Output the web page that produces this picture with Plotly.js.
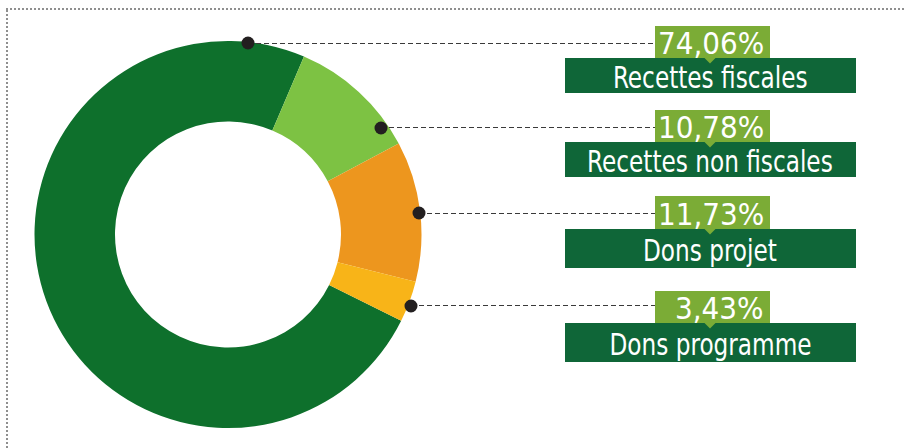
<!DOCTYPE html>
<html>
<head>
<meta charset="utf-8">
<script src="https://cdn.plot.ly/plotly-3.0.1.min.js"></script>
<style>
  html, body { margin: 0; padding: 0; background: #ffffff; }
  #chart { width: 908px; height: 448px; }
</style>
</head>
<body>
<div id="chart"></div>
<script>
// ---- Data ----
const categories = ['Recettes fiscales', 'Recettes non fiscales', 'Dons projet', 'Dons programme'];
const values = [74.06, 10.78, 11.73, 3.43];
const sliceColors = ['#0e702c', '#7dc243', '#ed961e', '#f8b418'];

// ---- Layout helpers (pixel -> paper) ----
const W = 908, H = 448;
const px = x => x / W;
const py = y => 1 - y / H;

// label block geometry (pixels)
const rows = [
  { dot: [248, 43],  lineY: 43.5,  pct: [26, 58],   lab: [58, 93] },
  { dot: [381, 128], lineY: 127.5, pct: [110, 142], lab: [142, 177] },
  { dot: [419, 213], lineY: 213.5, pct: [196, 229], lab: [229, 268] },
  { dot: [411, 306], lineY: 305.5, pct: [291, 323], lab: [323, 362] }
];
const pctX = [655, 770], labX = [565, 856];

const cx = 228, cy = 234.5, R = 193.5;
const FONT = '"DejaVu Sans Condensed", "Liberation Sans Narrow", sans-serif';
const LABEL_SQUEEZE = 0.86;

const shapes = [];
const annotations = [];

// dotted frame
shapes.push({ type: 'line', xref: 'paper', yref: 'paper', x0: px(6), x1: px(906), y0: py(9), y1: py(9),
  line: { color: '#8f8f8f', width: 2, dash: '2px,2px' } });
shapes.push({ type: 'line', xref: 'paper', yref: 'paper', x0: px(7), x1: px(7), y0: py(10), y1: py(448),
  line: { color: '#8f8f8f', width: 2, dash: '2px,2px' } });

rows.forEach((r, i) => {
  // dashed leader
  shapes.push({ type: 'line', xref: 'paper', yref: 'paper', x0: px(r.dot[0]), x1: px(pctX[0]),
    y0: py(r.lineY), y1: py(r.lineY), line: { color: '#3a3a3a', width: 1, dash: '5px,3px' } });
  // dot
  const d = 6.5;
  shapes.push({ type: 'circle', xref: 'paper', yref: 'paper', x0: px(r.dot[0] - d), x1: px(r.dot[0] + d),
    y0: py(r.dot[1] + d), y1: py(r.dot[1] - d), fillcolor: '#231f20', line: { width: 0 } });
  // dark label box
  shapes.push({ type: 'rect', xref: 'paper', yref: 'paper', x0: px(labX[0]), x1: px(labX[1]),
    y0: py(r.lab[1]), y1: py(r.lab[0]), fillcolor: '#0f6638', line: { width: 0 } });
  // percent box
  shapes.push({ type: 'rect', xref: 'paper', yref: 'paper', x0: px(pctX[0]), x1: px(pctX[1]),
    y0: py(r.pct[1]), y1: py(r.pct[0]), fillcolor: '#7bac36', line: { width: 0 } });
  // pointer triangle
  const b = r.pct[1];
  shapes.push({ type: 'path', xref: 'paper', yref: 'paper',
    path: `M ${px(704)} ${py(b - 0.5)} L ${px(716)} ${py(b - 0.5)} L ${px(710)} ${py(b + 5.5)} Z`,
    fillcolor: '#7bac36', line: { width: 0 } });

  // percentage text
  annotations.push({ xref: 'paper', yref: 'paper', x: px(766), y: py((r.pct[0] + r.pct[1]) / 2 + 1),
    xanchor: 'right', yanchor: 'middle', showarrow: false,
    text: values[i].toFixed(2).replace('.', ',') + '%',
    font: { family: FONT, size: 31, color: '#ffffff' } });
  // category text
  annotations.push({ xref: 'paper', yref: 'paper', x: px(710), y: py((r.lab[0] + r.lab[1]) / 2 + 1.5),
    xanchor: 'center', yanchor: 'middle', showarrow: false,
    text: categories[i],
    font: { family: FONT, size: 30, color: '#ffffff' } });
});

const trace = {
  type: 'pie',
  labels: categories,
  values: values,
  marker: { colors: sliceColors, line: { width: 0 } },
  hole: 0.584,
  sort: false,
  direction: 'clockwise',
  rotation: 116.5,
  textinfo: 'none',
  hoverinfo: 'skip',
  showlegend: false,
  domain: { x: [px(cx - R), px(cx + R)], y: [py(cy + R), py(cy - R)] }
};

const layout = {
  width: W, height: H,
  margin: { l: 0, r: 0, t: 0, b: 0, pad: 0 },
  paper_bgcolor: '#ffffff',
  plot_bgcolor: '#ffffff',
  showlegend: false,
  shapes: shapes,
  annotations: annotations
};

Plotly.newPlot('chart', [trace], layout, { displayModeBar: false, staticPlot: true }).then(gd => {
  // squeeze the category labels horizontally to mimic the tall condensed face
  gd.querySelectorAll('g.annotation').forEach(g => {
    const idx = +g.getAttribute('data-index');
    if (idx % 2 !== 1) return;
    const t = g.querySelector('text.annotation-text');
    if (!t) return;
    const bb = t.getBBox();
    const c = bb.x + bb.width / 2;
    t.setAttribute('transform', `translate(${c},0) scale(${LABEL_SQUEEZE},1) translate(${-c},0)`);
  });
});
</script>
</body>
</html>
